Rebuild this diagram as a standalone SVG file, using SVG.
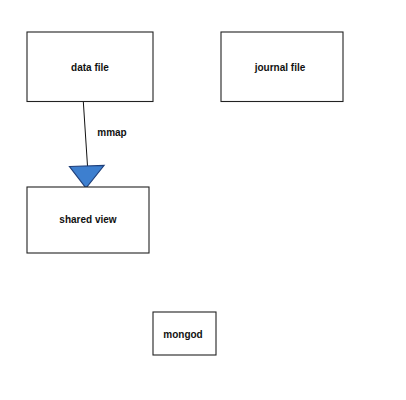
<svg xmlns="http://www.w3.org/2000/svg" width="406" height="400" viewBox="0 0 406 400">
<style>
.box{fill:#ffffff;stroke:#222222;stroke-width:1.1}
.lbl{font-family:"Liberation Sans",Arial,sans-serif;font-size:10px;font-weight:bold;fill:#111111;text-anchor:middle}
.edge{stroke:#111111;stroke-width:1;fill:none}
.head{fill:#3d7fcf;stroke:#1f3f7a;stroke-width:1.2}
</style>
<rect width="406" height="400" fill="#ffffff"/>
<g id="connectors">
<line class="edge" x1="83.3" y1="101.5" x2="87.5" y2="166"/>
<polygon class="head" points="69.5,166.5 104,165.5 86,188"/>
<text class="lbl" x="112" y="136">mmap</text>
</g>
<g id="data-file">
<rect class="box" x="27" y="32" width="126" height="69.5"/>
<text class="lbl" x="90" y="71">data file</text>
</g>
<g id="journal-file">
<rect class="box" x="221" y="32" width="122" height="69.5"/>
<text class="lbl" x="280" y="71">journal file</text>
</g>
<g id="shared-view">
<rect class="box" x="27" y="187" width="122" height="66"/>
<text class="lbl" x="88" y="223">shared view</text>
</g>
<g id="mongod">
<rect class="box" x="153" y="312" width="63" height="43"/>
<text class="lbl" x="183" y="338">mongod</text>
</g>
</svg>
